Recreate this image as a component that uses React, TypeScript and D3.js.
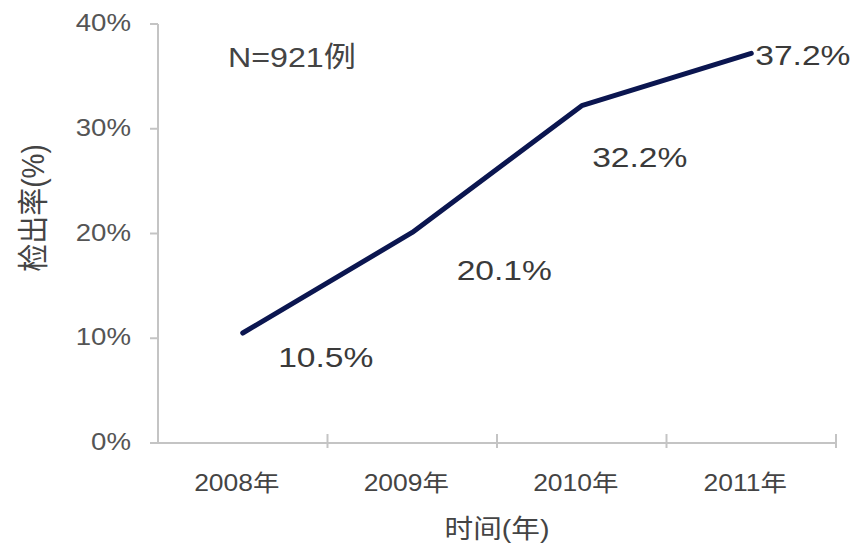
import React from "react";
import * as d3 from "d3";

const categories = ["2008年", "2009年", "2010年", "2011年"];
const values = [10.5, 20.1, 32.2, 37.2];
const yTicks = [0, 10, 20, 30, 40];
const dataLabels = ["10.5%", "20.1%", "32.2%", "37.2%"];
const noteText = "N=921例";
const xTitle = "时间(年)";
const yTitle = "检出率(%)";

// label layout offsets relative to the point (dx, dy, anchor)
const labelOffsets: [number, number, string][] = [
  [83, 34, "middle"],
  [92, 48, "middle"],
  [58, 61, "middle"],
  [4, 12, "start"],
];

const W = 856;
const H = 545;
const left = 158;
const right = 836;
const top = 24;
const bottom = 443;
const SX = 1.2;
const FONT = "Arial, 'Liberation Sans', 'Noto Sans CJK SC', sans-serif";

export default function App() {
  const x = d3.scaleBand<string>().domain(categories).range([left, right]).padding(0);
  const y = d3.scaleLinear().domain([0, 40]).range([bottom, top]);
  const line = d3
    .line<number>()
    .x((_, i) => (x(categories[i]) as number) + x.bandwidth() / 2)
    .y((d) => y(d));
  const axisColor = "#c4c4c4";
  const boundaries = categories.map((c) => (x(c) as number) + x.bandwidth());

  const T = (props: { x: number; y: number; anchor?: string; size: number; fill?: string; children: string; sx?: number }) => (
    <g transform={`translate(${props.x},${props.y}) scale(${props.sx ?? SX},1)`}>
      <text
        x={0}
        y={0}
        textAnchor={props.anchor ?? "middle"}
        fontSize={props.size}
        fill={props.fill ?? "#444"}
        fontFamily={FONT}
      >
        {props.children}
      </text>
    </g>
  );

  return (
    <div style={{ position: "fixed", left: 0, top: 0, width: W, height: H, background: "#fff" }}>
      <svg width={W} height={H} style={{ display: "block" }}>
        <rect width={W} height={H} fill="#fff" />
        {/* y axis */}
        <line x1={left} x2={left} y1={top} y2={bottom} stroke={axisColor} strokeWidth={2} />
        {yTicks.map((t) => (
          <g key={t}>
            <line x1={left - 8} x2={left} y1={y(t)} y2={y(t)} stroke={axisColor} strokeWidth={2} />
            <T x={left - 27} y={y(t) + 7} anchor="end" size={23} fill="#555">{`${t}%`}</T>
          </g>
        ))}
        {/* x axis */}
        <line x1={left} x2={right} y1={bottom} y2={bottom} stroke={axisColor} strokeWidth={2} />
        {boundaries.map((b, i) => (
          <line key={i} x1={b} x2={b} y1={bottom - 9} y2={bottom + 5} stroke={axisColor} strokeWidth={2} />
        ))}
        {categories.map((c) => (
          <T key={c} x={(x(c) as number) + x.bandwidth() / 2 - 6} y={491} size={23} fill="#444" sx={1.15}>
            {c}
          </T>
        ))}
        <T x={(left + right) / 2} y={538} size={26} fill="#444" sx={1.1}>
          {xTitle}
        </T>
        <g transform={`translate(44,208) rotate(-90)`}>
          <g transform="scale(1,1.1)">
            <text x={0} y={0} textAnchor="middle" fontSize={28} fill="#444" fontFamily={FONT}>
              {yTitle}
            </text>
          </g>
        </g>
        {/* line */}
        <path d={line(values) ?? ""} fill="none" stroke="#0b1650" strokeWidth={5} strokeLinejoin="round" strokeLinecap="round" />
        {values.map((v, i) => {
          const px = (x(categories[i]) as number) + x.bandwidth() / 2;
          const py = y(v);
          const [dx, dy, anchor] = labelOffsets[i];
          return (
            <T key={i} x={px + dx} y={py + dy} anchor={anchor} size={28} fill="#3a3a3a">
              {dataLabels[i]}
            </T>
          );
        })}
        <T x={228} y={67} anchor="start" size={28} fill="#444" sx={1.15}>
          {noteText}
        </T>
      </svg>
    </div>
  );
}
